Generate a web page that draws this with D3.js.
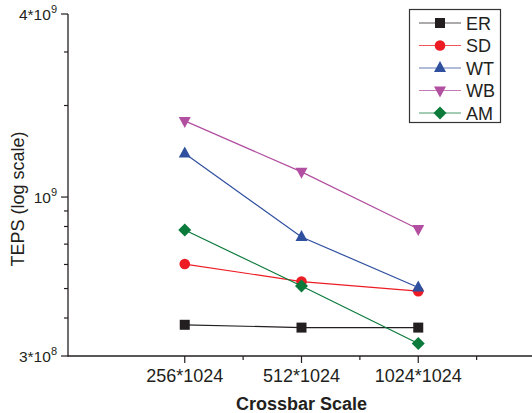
<!DOCTYPE html>
<html><head><meta charset="utf-8">
<script src="https://cdn.jsdelivr.net/npm/d3@7"></script>
<style>
body{margin:0;background:#fff;}
svg{display:block;font-family:Arial,"Liberation Sans",Helvetica,sans-serif;}
</style></head>
<body><svg id="c" width="532" height="413"></svg>
<script>
const categories = ["256*1024","512*1024","1024*1024"];
const seriesNames = ["ER","SD","WT","WB","AM"];
const ER = [3.80e8, 3.72e8, 3.72e8];
const SD = [6.02e8, 5.27e8, 4.90e8];
const WT = [1.39e9, 7.39e8, 5.04e8];
const WB = [1.78e9, 1.21e9, 7.85e8];
const AM = [7.79e8, 5.10e8, 3.30e8];
const yMajorTicks = [{v:4e9, m:"4*10", e:"9"},{v:1e9, m:"10", e:"9"},{v:3e8, m:"3*10", e:"8"}];
const yMinorTicks = [3e9, 2e9, 9e8, 8e8, 7e8, 6e8, 5e8, 4e8];
const xMinorTicks = [1.5, 2.5, 3.5];

const seriesValues = {ER, SD, WT, WB, AM};
const colors = {ER:"#231f20", SD:"#ed1c24", WT:"#2f4f9f", WB:"#b24fa0", AM:"#0b7a3b"};
const shapes = {ER:"square", SD:"circle", WT:"up", WB:"down", AM:"diamond"};

const svg = d3.select("#c");
const x = d3.scaleLinear().domain([0,4]).range([68,535]);
const y = d3.scaleLog().domain([3e8,4e9]).range([356,14]);

const axisColor = "#231f20";
svg.append("line").attr("x1",68).attr("x2",68).attr("y1",y(4e9)).attr("y2",y(3e8)+0.5).attr("stroke",axisColor).attr("stroke-width",1.3);
svg.append("line").attr("x1",67.5).attr("x2",532).attr("y1",356).attr("y2",356).attr("stroke",axisColor).attr("stroke-width",1.3);

yMajorTicks.forEach(t=>{
  const yy = y(t.v);
  svg.append("line").attr("x1",61).attr("x2",68).attr("y1",yy).attr("y2",yy).attr("stroke",axisColor).attr("stroke-width",1.2);
  const txt = svg.append("text").attr("x",57).attr("y",yy+5.5).attr("text-anchor","end").attr("font-size",15.5).attr("fill","#231f20");
  txt.append("tspan").text(t.m);
  txt.append("tspan").attr("dy",-7).attr("font-size",11).text(t.e);
});
yMinorTicks.forEach(v=>{
  const yy = y(v);
  svg.append("line").attr("x1",64).attr("x2",68).attr("y1",yy).attr("y2",yy).attr("stroke",axisColor).attr("stroke-width",1.2);
});
categories.forEach((c,i)=>{
  const xx = x(i+1);
  svg.append("line").attr("x1",xx).attr("x2",xx).attr("y1",356).attr("y2",363).attr("stroke",axisColor).attr("stroke-width",1.2);
  svg.append("text").attr("x",xx).attr("y",382).attr("text-anchor","middle").attr("font-size",18).attr("fill","#231f20").text(c);
});
xMinorTicks.forEach(v=>{
  const xx = x(v);
  svg.append("line").attr("x1",xx).attr("x2",xx).attr("y1",356).attr("y2",360).attr("stroke",axisColor).attr("stroke-width",1.2);
});

svg.append("text").attr("x",x(2)).attr("y",410).attr("text-anchor","middle").attr("font-size",18).attr("font-weight","bold").attr("fill","#231f20").text("Crossbar Scale");
svg.append("text").attr("transform","translate(24,199) rotate(-90)").attr("text-anchor","middle").attr("font-size",18).attr("fill","#231f20").text("TEPS (log scale)");

function marker(g, shape, cx, cy, color){
  if(shape==="square") g.append("rect").attr("x",cx-5).attr("y",cy-5).attr("width",10).attr("height",10).attr("fill",color);
  else if(shape==="circle") g.append("circle").attr("cx",cx).attr("cy",cy).attr("r",5.3).attr("fill",color);
  else if(shape==="up") g.append("path").attr("d",`M${cx},${cy-7}L${cx+6},${cy+4}L${cx-6},${cy+4}Z`).attr("fill",color);
  else if(shape==="down") g.append("path").attr("d",`M${cx},${cy+7}L${cx+6},${cy-4}L${cx-6},${cy-4}Z`).attr("fill",color);
  else if(shape==="diamond") g.append("path").attr("d",`M${cx},${cy-6.5}L${cx+6.5},${cy}L${cx},${cy+6.5}L${cx-6.5},${cy}Z`).attr("fill",color);
}

const line = d3.line().x((d,i)=>x(i+1)).y(d=>y(d));
seriesNames.forEach(name=>{
  const g = svg.append("g");
  g.append("path").datum(seriesValues[name]).attr("d",line).attr("fill","none").attr("stroke",colors[name]).attr("stroke-width",1.2);
  seriesValues[name].forEach((v,i)=>marker(g, shapes[name], x(i+1), y(v), colors[name]));
});

const lg = svg.append("g");
lg.append("rect").attr("x",409.5).attr("y",9.5).attr("width",91).attr("height",113).attr("fill","#fff").attr("stroke","#333").attr("stroke-width",1.2);
seriesNames.forEach((name,i)=>{
  const yy = 23 + i*22.5;
  lg.append("line").attr("x1",419).attr("x2",461).attr("y1",yy).attr("y2",yy).attr("stroke",colors[name]).attr("stroke-width",1.2).attr("stroke-opacity",0.75);
  marker(lg, shapes[name], 440, yy, colors[name]);
  lg.append("text").attr("x",466).attr("y",yy+6.5).attr("font-size",18).attr("fill","#231f20").text(name);
});
</script></body></html>
